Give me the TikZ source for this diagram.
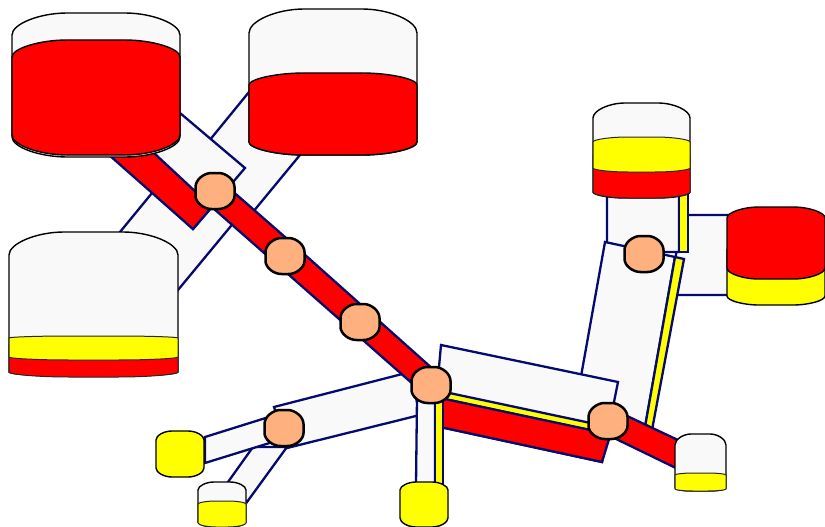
\documentclass[tikz,border=0pt]{standalone}
\definecolor{pipenavy}{RGB}{5,10,110}
\definecolor{pipewhite}{RGB}{249,249,249}
\definecolor{juncorange}{RGB}{255,176,127}
\definecolor{purered}{RGB}{255,0,0}
\definecolor{pureyellow}{RGB}{255,255,0}
\newcommand{\tankpath}[8]{% style,x1,x2,ytop,yshoulder top,yshoulder bottom,ybot,corner
  \pgfmathsetmacro{\xa}{#2+0.5*#8}\pgfmathsetmacro{\xb}{#2+#8}
  \pgfmathsetmacro{\xc}{#3-#8}\pgfmathsetmacro{\xd}{#3-0.5*#8}
  \pgfmathsetmacro{\ya}{#4+0.5*(#5-#4)}\pgfmathsetmacro{\yb}{#7-0.5*(#7-#6)}
  \path[#1] (#2,#5) .. controls (#2,\ya) and (\xa,#4) .. (\xb,#4) -- (\xc,#4)
    .. controls (\xd,#4) and (#3,\ya) .. (#3,#5) -- (#3,#6)
    .. controls (#3,\yb) and (\xd,#7) .. (\xc,#7) -- (\xb,#7)
    .. controls (\xa,#7) and (#2,\yb) .. (#2,#6) -- cycle;
}
\newcommand{\junc}[3]{% name, centre x, centre y
  \coordinate (#1) at (#2,#3);
  \pgfmathsetmacro{\jl}{#2-19.5}\pgfmathsetmacro{\jr}{#2+19.5}
  \pgfmathsetmacro{\jt}{#3-18}\pgfmathsetmacro{\jb}{#3+18}
  \pgfmathsetmacro{\jst}{#3-4}\pgfmathsetmacro{\jsb}{#3+5}
  \tankpath{junction}{\jl}{\jr}{\jt}{\jst}{\jsb}{\jb}{16}
}
\tikzset{
  tank/.style={draw=black,line width=1.4pt},
  layer/.style={draw=black!85,line width=1pt},
  pipewall/.style={draw=pipenavy,line width=2.3pt,line join=miter,fill=pipewhite},
  pipered/.style={pipewall,fill=purered},
  pipeyellow/.style={pipewall,fill=pureyellow},
  junction/.style={draw=black,line width=2.5pt,fill=juncorange},
}
\begin{document}
\begin{tikzpicture}[x=1pt,y=-1pt]
\useasboundingbox (0,0) rectangle (825,527);
% pipes behind: tank C to first junction, first junction to tank B
\draw[pipewall] (120,232) -- (175,165) -- (245,209) -- (178,290) -- cycle;
\draw[pipewall] (200,152) -- (249,92) -- (300,155) -- (248,218) -- cycle;
% pipe from tank A
\draw[pipewall] (180,113) -- (245,168) -- (193,229) -- (100,145) -- cycle;
\draw[pipered] (100,147) -- (193,229) -- (212,207) -- (140,140) -- cycle;
% lower left pipes
\draw[pipewall] (274,407) -- (410,372) -- (420,415) -- (287,448) -- cycle;
\draw[pipewall] (228,482) -- (253,447) -- (287,447) -- (247,502) -- cycle;
\draw[pipewall] (205,437) -- (272,416) -- (276,441) -- (205,463) -- cycle;
% long red run
\draw[pipered] (222,182) -- (285,237) -- (434,370) -- (414,385) -- (263,252) -- (205,201) -- cycle;
% right pipes
\draw[pipewall] (680,215) -- (730,215) -- (730,295) -- (672,295) -- cycle;
\draw[pipewall] (607,190) -- (679,190) -- (679,252) -- (640,252) -- (607,243) -- cycle;
\draw[pipeyellow] (679,190) -- (688,190) -- (688,252) -- (679,252) -- cycle;
\draw[pipewall] (605,242) -- (675,257) -- (645,427) -- (575,410) -- cycle;
\draw[pipeyellow] (675,257) -- (684,259) -- (652,430) -- (645,427) -- cycle;
% big pipe
\draw[pipewall] (441,345) -- (618,382) -- (602,462) -- (445,428) -- (436,400) -- cycle;
\draw[pipeyellow] (440,391) -- (600,425) -- (598,432) -- (440,398) -- cycle;
\draw[pipered] (440,398) -- (600,432) -- (610,436) -- (602,462) -- (440,427) -- cycle;
\draw[pipered] (625,415) -- (680,441) -- (680,470) -- (612,437) -- cycle;
% pipe to tank I
\draw[pipewall] (417,398) -- (435,398) -- (435,485) -- (416,485) -- cycle;
\draw[pipeyellow] (435,398) -- (443,398) -- (443,485) -- (435,485) -- cycle;
% tank A
\tankpath{tank,fill=pipewhite}{12}{180}{13}{35}{137}{157}{55}
\tankpath{tank,fill=purered}{12}{180}{40}{57}{135}{155}{55}
% tank B
\tankpath{tank,fill=pipewhite}{249}{417}{9}{33}{142}{155}{55}
\tankpath{tank,fill=purered}{249}{417}{73}{85}{142}{155}{55}
% tank C
\tankpath{tank,fill=pipewhite}{9}{178}{232}{255}{372}{376}{55}
\tankpath{layer,fill=purered}{9}{178}{340}{345}{372}{377}{60}
\tankpath{layer,fill=pureyellow}{9}{178}{336}{338}{357}{360}{60}
% tank D
\tankpath{tank,fill=pipewhite}{593}{690}{103}{118}{192}{198}{32}
\tankpath{layer,fill=purered}{593}{690}{150}{155}{192}{198}{35}
\tankpath{layer,fill=pureyellow}{593}{690}{137}{142}{168}{172}{35}
% tank E
\tankpath{tank,fill=pureyellow}{727}{825}{240}{250}{296}{305}{32}
\tankpath{tank,fill=purered}{727}{825}{207}{218}{268}{279}{32}
% tank F
\tankpath{tank,fill=pipewhite}{675}{726}{434}{445}{488}{491}{16}
\tankpath{layer,fill=pureyellow}{675}{726}{473}{475}{489}{491}{18}
% tank G
\tankpath{tank,fill=pureyellow}{156}{204}{431}{440}{468}{477}{16}
% tank H
\tankpath{tank,fill=pipewhite}{198}{246}{482}{490}{522}{527}{16}
\tankpath{layer,fill=pureyellow}{198}{246}{501}{504}{523}{527}{18}
% tank I
\tankpath{tank,fill=pureyellow}{400}{448}{482}{490}{518}{527}{16}
% junctions
\junc{j1}{215}{191}
\junc{j2}{285}{256}
\junc{j3}{360}{322}
\junc{j4}{431}{385}
\junc{j5}{608}{421}
\junc{j6}{644}{254}
\junc{j7}{284}{428}
\end{tikzpicture}
\end{document}
